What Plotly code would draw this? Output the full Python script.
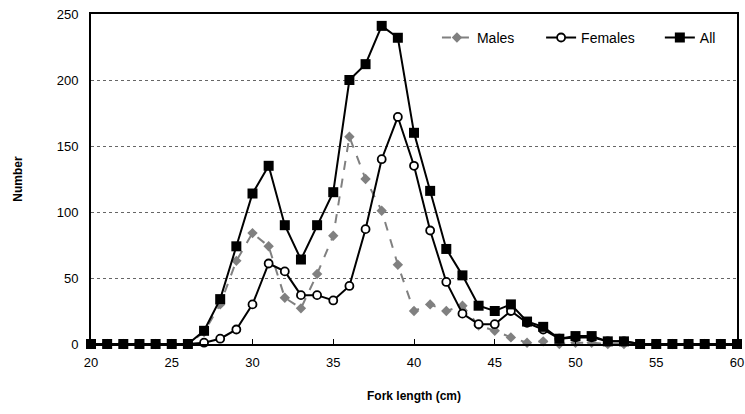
import plotly.graph_objects as go

# fork length classes (cm)
length = list(range(20, 61))

males = [0, 0, 0, 0, 0, 0, 0, 9, 30, 63, 84, 74, 35, 27, 53, 82, 157, 125, 101, 60,
         25, 30, 25, 29, 14, 10, 5, 1, 2, 0, 1, 1, 0, 0, 0, 0, 0, 0, 0, 0, 0]
females = [0, 0, 0, 0, 0, 0, 0, 1, 4, 11, 30, 61, 55, 37, 37, 33, 44, 87, 140, 172,
           135, 86, 47, 23, 15, 15, 25, 16, 11, 4, 5, 5, 2, 2, 0, 0, 0, 0, 0, 0, 0]
all_fish = [0, 0, 0, 0, 0, 0, 0, 10, 34, 74, 114, 135, 90, 64, 90, 115, 200, 212, 241, 232,
            160, 116, 72, 52, 29, 25, 30, 17, 13, 4, 6, 6, 2, 2, 0, 0, 0, 0, 0, 0, 0]

fig = go.Figure()
fig.add_trace(go.Scatter(
    x=length, y=males, name="Males", mode="lines+markers", legend="legend",
    line=dict(color="#808080", width=2, dash="dash"),
    marker=dict(symbol="diamond", size=8, color="#808080"),
    cliponaxis=False))
fig.add_trace(go.Scatter(
    x=length, y=females, name="Females", mode="lines+markers", legend="legend2",
    line=dict(color="black", width=2),
    marker=dict(symbol="circle", size=8, color="white", line=dict(color="black", width=1.8)),
    cliponaxis=False))
fig.add_trace(go.Scatter(
    x=length, y=all_fish, name="All", mode="lines+markers", legend="legend3",
    line=dict(color="black", width=2),
    marker=dict(symbol="square", size=10, color="black"),
    cliponaxis=False))

font = "Liberation Sans, Arial, sans-serif"
leg = dict(orientation="h", xanchor="right", y=0.976, yanchor="top",
           bgcolor="rgba(0,0,0,0)", font=dict(size=14), itemwidth=30)
fig.update_layout(
    width=745, height=414,
    margin=dict(l=91, r=8, t=14, b=70, autoexpand=False),
    plot_bgcolor="white", paper_bgcolor="white",
    font=dict(family=font, size=12, color="black"),
    showlegend=True,
    legend=dict(leg, x=0.664),
    legend2=dict(leg, x=0.850),
    legend3=dict(leg, x=0.975),
)
fig.update_xaxes(
    range=[20, 60], tick0=20, dtick=5, showgrid=False, zeroline=False,
    showline=True, linecolor="black", linewidth=2, mirror=True, automargin=False,
    ticks="inside", ticklen=5, tickcolor="black", tickfont=dict(size=13),
    ticklabelstandoff=5, ticklabeloverflow="allow",
    title=dict(text="<b>Fork length (cm)</b>", font=dict(size=12), standoff=23),
)
fig.update_yaxes(
    range=[0, 250], tick0=0, dtick=50, showgrid=True, gridcolor="#666666",
    griddash="dot", gridwidth=1, zeroline=False,
    showline=True, linecolor="black", linewidth=2, mirror=True, automargin=False,
    ticks="", tickfont=dict(size=13), ticklabelstandoff=8, ticklabeloverflow="allow",
    title=dict(text="<b>Number</b>", font=dict(size=12), standoff=31),
)

# drop the default 8px page margin so the figure fills the window exactly
fig.write_html("out.html", config={"displayModeBar": False},
               post_script="document.body.style.margin='0px';")
